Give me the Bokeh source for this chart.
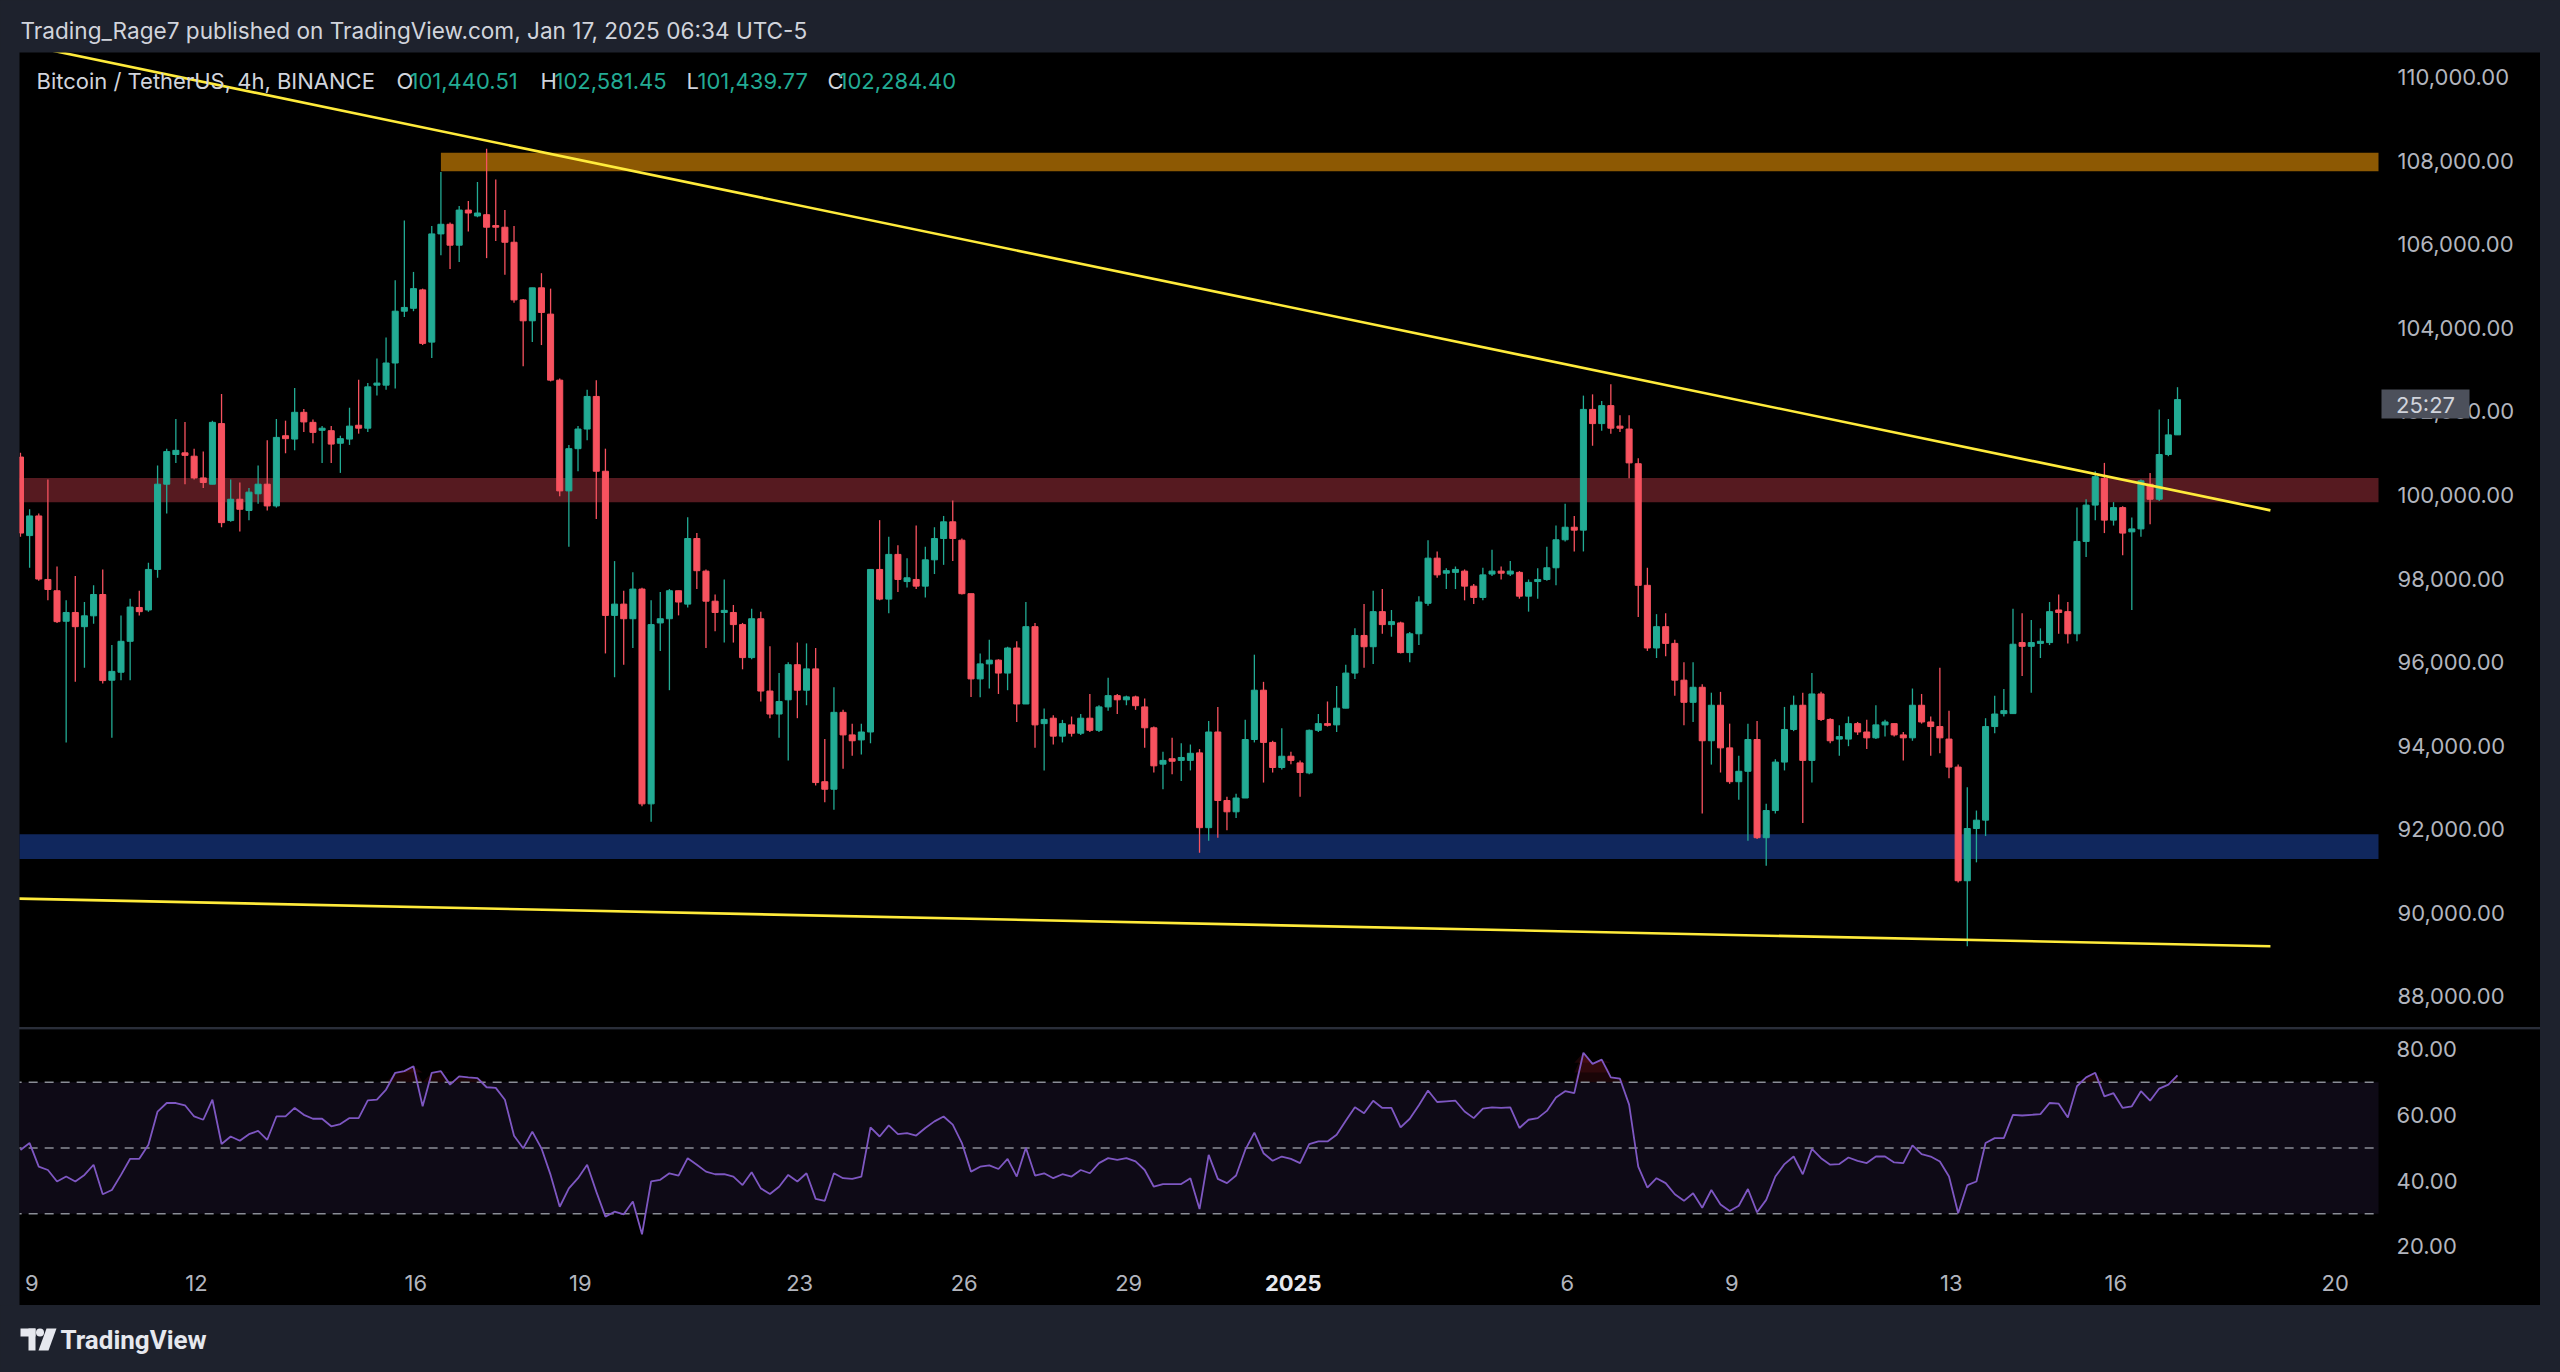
import numpy as np
import pandas as pd
from bokeh.plotting import figure
from bokeh.models import Range1d, FixedTicker, NumeralTickFormatter, Label, Spacer, ColumnDataSource
from bokeh.layouts import column, row
from bokeh.embed import file_html
from bokeh.resources import INLINE
from bokeh.core.properties import value

# ---------------- data (BTC/USDT 4h) ----------------
opens = [
    100910, 99030, 99500, 97980, 97710, 96980, 97190, 96850, 97110, 97620,
    95570, 95760, 96500, 97310, 97250, 98220, 100260, 100970, 101010, 100930,
    100410, 100260, 101710, 99390, 99900, 99630, 100030, 100260, 99740, 101420,
    101340, 101980, 101740, 101550, 101540, 101240, 101340, 101670, 101600, 102630,
    102630, 103160, 104400, 104470, 104910, 103660, 106250, 106480, 105980, 106820,
    106680, 106710, 106450, 106410, 106050, 104670, 104170, 104960, 104330, 102750,
    100100, 101110, 101580, 102360, 100570, 97120, 97390, 97040, 97750, 92610,
    96940, 97040, 97710, 97390, 98960, 98180, 97460, 97190, 97190, 96900,
    96110, 97040, 95310, 94760, 95100, 95940, 95330, 95840, 93140, 92960,
    94800, 94260, 94140, 94330, 98220, 97510, 98580, 97930, 97980, 97820,
    98450, 98960, 99360, 98920, 97640, 95600, 95960, 96050, 95740, 96340,
    95000, 96850, 94530, 94660, 94230, 94500, 94300, 94660, 94370, 94930,
    95200, 95100, 95170, 94930, 94430, 93560, 93690, 93650, 93650, 93830,
    92040, 94330, 92690, 92420, 92750, 94150, 95330, 94080, 93480, 93750,
    93590, 93350, 94370, 94530, 94500, 94900, 95740, 96640, 96370, 97210,
    96900, 96940, 96230, 96680, 97410, 98490, 98130, 98150, 98180, 97820,
    97550, 98110, 98180, 98110, 98150, 97580, 97930, 97980, 98260, 98930,
    99230, 99160, 102050, 101710, 102140, 101650, 101580, 100750, 97840, 96340,
    96850, 96450, 95570, 95040, 95400, 94120, 94970, 93950, 93140, 93390,
    94150, 91800, 92450, 93610, 94390, 94970, 93650, 95240, 94630, 94160,
    94160, 94530, 94330, 94190, 94500, 94530, 94260, 94190, 94970, 94570,
    94460, 94160, 93490, 90770, 92020, 92220, 94460, 94770, 94770, 96470,
    96380, 96450, 96470, 97250, 97210, 96680, 98890, 99760, 100400, 99400,
    99700, 99120, 99190, 100260, 99900, 100970, 101440.51,
]
highs = [
    101010, 99660, 99560, 100370, 98290, 97480, 98060, 97440, 97840, 98220,
    96410, 97120, 97520, 97710, 98380, 100710, 101110, 101820, 101750, 101110,
    101040, 101780, 102420, 100370, 100300, 100170, 100710, 101310, 101820, 101780,
    102560, 102060, 101810, 101650, 101650, 101420, 102090, 102760, 102680, 103270,
    103770, 105140, 106570, 105340, 104940, 106440, 107730, 106520, 106920, 107040,
    107490, 108290, 107550, 106820, 106440, 104690, 104960, 105310, 104940, 102790,
    101200, 101650, 102520, 102750, 101110, 98420, 97710, 98150, 97780, 97480,
    97680, 97750, 97710, 99470, 99090, 98220, 97620, 97980, 97370, 96940,
    97280, 97210, 96380, 95740, 96000, 96470, 96450, 96340, 94160, 95400,
    94860, 94530, 94530, 98220, 99400, 99000, 98800, 98490, 99270, 98760,
    99230, 99500, 99870, 98960, 97640, 96210, 96540, 96070, 96370, 96500,
    97440, 96940, 94890, 94730, 94620, 94700, 94760, 95240, 94970, 95630,
    95240, 95200, 95200, 95130, 94460, 93860, 94190, 94060, 94030, 93920,
    94590, 94930, 92780, 92850, 94620, 96180, 95530, 94120, 94420, 93860,
    93650, 94390, 94760, 95060, 95430, 95940, 96810, 97390, 97710, 97750,
    97250, 96970, 96720, 97580, 98920, 98650, 98250, 98290, 98220, 97870,
    98260, 98690, 98290, 98420, 98180, 97980, 98250, 98760, 99270, 99790,
    99500, 102380, 102410, 102250, 102650, 101910, 101910, 100880, 98260, 97150,
    97170, 96540, 96000, 96000, 95470, 95270, 95290, 94530, 93760, 94530,
    94590, 92610, 93680, 94930, 95200, 95270, 95740, 95290, 94660, 94490,
    94700, 94570, 94620, 94970, 94620, 94530, 94330, 95370, 95240, 94700,
    95870, 94840, 93550, 93010, 92450, 94660, 95200, 95360, 97280, 97170,
    97010, 96810, 97440, 97620, 97440, 99700, 99900, 100570, 100770, 99830,
    99730, 99460, 100370, 100530, 102050, 101820, 102581.45,
]
lows = [
    99000, 98260, 97950, 97480, 96940, 94080, 95530, 95870, 96920, 95490,
    94190, 95570, 95570, 97120, 97210, 98020, 99560, 100770, 100260, 100370,
    100170, 100260, 99230, 99360, 99130, 99400, 99790, 99630, 99700, 101000,
    101070, 101510, 101240, 100770, 100770, 100530, 101200, 101470, 101510, 102380,
    102520, 102550, 104260, 104400, 103590, 103280, 105740, 105410, 105580, 106310,
    106650, 105670, 106080, 105270, 104600, 103080, 103660, 103590, 102720, 99970,
    98760, 100570, 101310, 99430, 96210, 95640, 95940, 96340, 92550, 92180,
    96270, 95330, 97120, 97310, 97750, 96340, 96740, 96470, 96470, 95830,
    96070, 95060, 94660, 94190, 93650, 94660, 94970, 93050, 92650, 92470,
    93450, 93760, 93790, 94060, 97480, 97170, 97680, 97790, 97750, 97550,
    98110, 98330, 98420, 97620, 95170, 95160, 95370, 95240, 95330, 94570,
    95000, 93950, 93410, 94030, 94080, 94220, 94260, 94330, 94330, 94840,
    94760, 94970, 94860, 93950, 93360, 92960, 93320, 93160, 93410, 91440,
    91730, 91800, 91980, 92270, 92750, 94080, 93120, 93360, 93430, 93560,
    92780, 93320, 94330, 94460, 94330, 94900, 95600, 95870, 95960, 96680,
    96610, 96210, 96000, 96410, 97350, 98020, 97750, 97750, 97480, 97390,
    97480, 98060, 97980, 98060, 97520, 97210, 97520, 97950, 97840, 98890,
    98650, 98650, 101180, 101540, 101470, 101510, 100400, 97080, 96270, 96100,
    96140, 95200, 94490, 94570, 92380, 93550, 93360, 93090, 92710, 91730,
    91770, 91130, 92380, 93410, 94350, 92150, 93120, 94590, 94060, 93760,
    93990, 94260, 93920, 94160, 94220, 94220, 93650, 94120, 94530, 93760,
    93820, 93220, 90730, 89200, 91210, 91840, 94300, 94700, 94770, 95670,
    95270, 96100, 96410, 96680, 96450, 96500, 98520, 99400, 99090, 99270,
    98560, 97250, 99000, 99300, 99860, 100930, 101439.77,
]
closes = [
    99090, 99500, 97990, 97740, 96970, 97190, 96850, 97110, 97620, 95560,
    95780, 96500, 97320, 97210, 98220, 100260, 101040, 101070, 100950, 100410,
    100300, 101740, 99340, 99900, 99660, 100070, 100260, 99740, 101380, 101350,
    101980, 101750, 101500, 101600, 101220, 101350, 101650, 101600, 102590, 102680,
    103160, 104400, 104490, 104940, 103630, 106250, 106480, 105980, 106820, 106750,
    106750, 106410, 106410, 106050, 104670, 104170, 104960, 104370, 102750, 100100,
    101110, 101580, 102360, 100570, 97120, 97390, 97040, 97750, 92610, 96900,
    97040, 97710, 97440, 98960, 98190, 97460, 97190, 97240, 96900, 96110,
    97040, 95310, 94760, 95060, 95940, 95330, 95840, 93120, 92960, 94800,
    94260, 94120, 94330, 98220, 97510, 98580, 97980, 98020, 97820, 98450,
    98960, 99360, 98960, 97640, 95600, 95960, 96050, 95740, 96340, 95000,
    96850, 94500, 94630, 94230, 94530, 94300, 94660, 94370, 94930, 95200,
    95100, 95170, 94960, 94430, 93520, 93650, 93630, 93720, 93820, 92040,
    94330, 92690, 92420, 92750, 94150, 95330, 94080, 93480, 93750, 93650,
    93360, 94370, 94530, 94490, 94900, 95740, 96640, 96370, 97210, 96900,
    96970, 96230, 96680, 97440, 98490, 98090, 98190, 98220, 97820, 97550,
    98090, 98180, 98130, 98180, 97580, 97910, 97980, 98260, 98930, 99230,
    99160, 102050, 101710, 102140, 101600, 101600, 100770, 97840, 96340, 96850,
    96450, 95570, 95040, 95400, 94120, 94970, 93950, 93140, 93390, 94150,
    91800, 92450, 93610, 94390, 94970, 93650, 95240, 94630, 94120, 94220,
    94530, 94330, 94190, 94500, 94570, 94260, 94190, 94970, 94570, 94460,
    94190, 93490, 90770, 92020, 92220, 94460, 94760, 94840, 96430, 96380,
    96470, 96500, 97210, 97190, 96680, 98890, 99760, 100440, 99400, 99700,
    99090, 99190, 100340, 99900, 100970, 101440, 102284.40,
]
rsi = [
    49.4, 51.5, 44.3, 43.3, 39.8, 41.3, 39.8, 41.8, 44.9, 35.9,
    37.2, 41.8, 46.7, 46.7, 51.0, 61.1, 63.7, 63.7, 63.0, 59.6,
    58.6, 64.7, 51.2, 53.5, 52.2, 54.2, 55.2, 52.5, 59.6, 59.6,
    62.2, 60.1, 58.9, 58.9, 56.6, 57.3, 59.1, 59.1, 64.5, 64.7,
    67.8, 72.9, 73.4, 74.9, 62.7, 72.9, 73.4, 69.3, 71.8, 71.5,
    71.3, 68.5, 68.3, 64.7, 53.7, 49.9, 55.0, 49.9, 41.8, 32.1,
    37.7, 40.8, 44.9, 36.7, 29.1, 30.6, 29.8, 33.7, 23.7, 39.8,
    40.3, 42.3, 41.6, 46.9, 44.9, 42.8, 42.0, 42.0, 41.3, 38.7,
    42.6, 37.7, 36.0, 38.2, 41.8, 39.8, 42.3, 34.5, 33.9, 42.3,
    40.8, 40.6, 41.3, 56.3, 53.5, 56.9, 54.2,
    54.5, 53.8, 56.1, 58.1, 59.6, 57.1, 51.5, 42.8, 44.3, 44.7,
    43.6, 46.7, 41.3, 50.1, 41.6, 42.3, 40.8, 42.0, 41.3, 43.3,
    42.3, 45.4, 46.9, 46.4, 46.9, 45.9, 43.3, 38.2, 39.0, 39.0,
    39.0, 40.8, 31.4, 47.9, 40.6, 39.3, 41.6, 49.4, 54.7, 48.4,
    46.1, 47.4, 46.7, 45.4, 51.2, 52.0, 52.0, 54.0, 58.3, 62.4,
    60.6, 64.4, 62.2, 62.2, 56.3, 58.9, 63.0, 67.5, 64.0, 64.2,
    64.4, 61.1, 59.1, 62.0, 62.4, 62.2, 62.4, 56.1, 58.6, 59.1,
    61.3, 65.4, 67.3, 66.7, 79.0, 75.6, 76.9, 71.5, 71.1, 63.2,
    44.3, 37.9, 40.8, 39.3, 35.9, 33.9, 36.2, 31.8, 37.2, 32.8,
    30.8, 32.4, 37.5, 30.4, 34.2, 41.3, 45.1, 47.4,
    42.0, 49.7, 46.9, 44.9, 45.1, 47.1, 46.1, 45.4, 47.4, 47.4,
    45.6, 45.4, 50.8, 48.1, 47.4, 45.9, 41.3, 30.1, 38.7, 39.8,
    51.5, 53.0, 53.0, 60.1, 59.9, 60.1, 60.3, 63.7, 63.5, 59.3,
    68.8, 71.5, 72.9, 65.7, 66.7, 62.2, 62.7, 67.3, 64.4, 68.1,
    69.3, 72.1,
]

bar_start = "2024-12-08 19:00"        # first 4h bar (chart time, UTC-5)
axis_origin = "2024-12-09 00:00"
tick_dates = ["2024-12-09", "2024-12-12", "2024-12-16", "2024-12-19", "2024-12-23",
              "2024-12-26", "2024-12-29", "2025-01-01", "2025-01-06", "2025-01-09",
              "2025-01-13", "2025-01-16", "2025-01-20"]
tick_labels = ["9", "12", "16", "19", "23", "26", "29", "2025", "6", "9", "13", "16", "20"]
price_ticks = list(range(88000, 110001, 2000))
rsi_ticks = [20, 40, 60, 80]
rsi_levels = [70, 50, 30]
rsi_band = [30, 70]
rsi_fill_steps = [70, 73, 76]

zone_start = ["2024-12-16 11:00", "2024-12-01 00:00", "2024-12-01 00:00"]
zone_low = [107750, 99830, 91290]
zone_high = [108190, 100410, 91880]
zone_colors = ["#8d5903", "#561a20", "#10275d"]

trend_dates = ["2024-12-08 12:00", "2025-01-18 19:40"]
upper_trend = [110873, 99634]
lower_trend = [90349, 89201]

header_text = "Trading_Rage7 published on TradingView.com, Jan 17, 2025 06:34 UTC-5"
symbol_text = "Bitcoin / TetherUS, 4h, BINANCE"
countdown_text = "25:27"

# ---------------- styling ----------------
NAVY = "#1e222d"
BLACK = "#000000"
UP = "#22ab94"
DOWN = "#f7525f"
TXT = "#d1d4dc"
AXT = "#b2b5be"
FONT = "Inter"

origin = pd.Timestamp(axis_origin)


def to_days(s):
    return (pd.Timestamp(s) - origin) / pd.Timedelta(days=1)


t = ((pd.date_range(bar_start, periods=len(opens), freq="4h") - origin) / pd.Timedelta(days=1)).to_numpy()
o = np.array(opens, float)
h = np.array(highs, float)
l = np.array(lows, float)
c = np.array(closes, float)
col = np.where(c >= o, UP, DOWN)
src = ColumnDataSource(dict(t=t, o=o, h=h, l=l, c=c, top=np.maximum(o, c), bot=np.minimum(o, c), col=col))

PX_PER_DAY = 54.84
PANEL_W = 2521                      # black panel, x 19 .. 2540
x0 = -0.226
xr = Range1d(x0, x0 + PANEL_W / PX_PER_DAY)
yr = Range1d(87258, 110591)


def px_day(X):                       # page x -> days
    return x0 + (X - 19) / PX_PER_DAY


def py_price(Y):                     # page y -> price
    return yr.end - (Y - 52) / 975.0 * (yr.end - yr.start)


scale_edge = px_day(2378)            # where the price scale begins

# ---------------- header ----------------
hd = figure(width=2560, height=52, x_range=(0, 2560), y_range=(0, 52), title=None,
            toolbar_location=None, output_backend="svg", x_axis_type=None, y_axis_type=None,
            min_border=0, background_fill_color=NAVY, border_fill_color=NAVY, outline_line_color=None)
hd.grid.visible = False
hd.text(x=[20], y=[22], text=[header_text], text_font=value(FONT), text_font_size="22.6px",
        text_color=TXT, text_baseline="middle")

# ---------------- main price panel ----------------
p = figure(width=PANEL_W, height=975, x_range=xr, y_range=yr, title=None,
           toolbar_location=None, output_backend="svg", x_axis_type=None, y_axis_location="right",
           min_border_left=0, min_border_right=0, min_border_top=0, min_border_bottom=0,
           background_fill_color=BLACK, border_fill_color=BLACK, outline_line_color=None)
p.grid.visible = False

p.quad(left=[to_days(s) for s in zone_start], right=[scale_edge] * len(zone_low),
       bottom=zone_low, top=zone_high, fill_color=zone_colors, line_color=None)

p.segment(x0="t", y0="l", x1="t", y1="h", line_color="col", line_width=1.3, source=src)
p.vbar(x="t", width=0.11, top="top", bottom="bot", fill_color="col", line_color="col",
       line_width=1, source=src)

tx = [to_days(s) for s in trend_dates]
p.line(x=tx, y=upper_trend, line_color="#ffeb3b", line_width=2.6)
p.line(x=tx, y=lower_trend, line_color="#ffeb3b", line_width=2.6)

ay = p.yaxis[0]
ay.ticker = FixedTicker(ticks=price_ticks)
ay.formatter = NumeralTickFormatter(format="0,0.00")
ay.major_label_text_color = AXT
ay.major_label_text_font = FONT
ay.major_label_text_font_size = "22px"
ay.major_tick_out = 0
ay.major_tick_in = 0
ay.major_label_standoff = -(2540 - 2397)
ay.axis_line_color = None
ay.major_tick_line_color = None
ay.minor_tick_line_color = None

leg_y = py_price(80)
legend_parts = [
    (symbol_text, 36, TXT),
    ("O", 396, TXT), (f"{opens[-1]:,.2f}", 409, UP),
    ("H", 540, TXT), (f"{highs[-1]:,.2f}", 554, UP),
    ("L", 686, TXT), (f"{lows[-1]:,.2f}", 697, UP),
    ("C", 827, TXT), (f"{closes[-1]:,.2f}", 838, UP),
]
for txt, X, colr in legend_parts:
    p.add_layout(Label(x=px_day(X), y=leg_y, text=txt, text_color=colr, text_font=FONT,
                       text_font_size="22px", text_baseline="middle", text_align="left"))

# countdown tag on the price scale
p.quad(left=[px_day(2381)], right=[px_day(2469)], bottom=[py_price(418)], top=[py_price(389)],
       fill_color="#4c505b", line_color=None, level="overlay")
p.text(x=[px_day(2425)], y=[py_price(404)], text=[countdown_text], text_font=value(FONT),
       text_font_size="22px", text_color=TXT, text_align="center", text_baseline="middle",
       level="overlay")

# ---------------- RSI panel ----------------
RSI_PX = 3.283
rsi_top = 86.09
r = figure(width=PANEL_W, height=276, x_range=xr, y_range=Range1d(rsi_top - 276 / RSI_PX, rsi_top),
           title=None, toolbar_location=None, output_backend="svg", y_axis_location="right",
           min_border_left=0, min_border_right=0, min_border_top=0, min_border_bottom=0,
           background_fill_color=BLACK, border_fill_color=BLACK, outline_line_color=None)
r.grid.visible = False
r.varea(x=[x0 - 1, scale_edge], y1=[rsi_band[0]] * 2, y2=[rsi_band[1]] * 2, fill_color="#0e0a16")
rs = np.array(rsi, float)
for lv in rsi_fill_steps:
    r.varea(x=t, y1=np.full(len(rs), float(lv)), y2=np.maximum(rs, lv), fill_color="#9a1c28",
            fill_alpha=0.17)
r.segment(x0=[x0 - 1] * 3, x1=[scale_edge] * 3, y0=rsi_levels, y1=rsi_levels,
          line_color="#8a8d96", line_width=1.5, line_dash="9 7")
r.line(t, rs, line_color="#7e57c2", line_width=1.8)

ry = r.yaxis[0]
ry.ticker = FixedTicker(ticks=rsi_ticks)
ry.formatter = NumeralTickFormatter(format="0.00")
ry.major_label_text_color = AXT
ry.major_label_text_font = FONT
ry.major_label_text_font_size = "22px"
ry.major_tick_out = 0
ry.major_tick_in = 0
ry.major_label_standoff = -(2540 - 2396)
ry.axis_line_color = None
ry.major_tick_line_color = None
ry.minor_tick_line_color = None

tick_pos = [to_days(d) for d in tick_dates]
rx = r.xaxis[0]
rx.ticker = FixedTicker(ticks=tick_pos)
rx.major_label_overrides = {pos: ("" if lab == "2025" else lab) for pos, lab in zip(tick_pos, tick_labels)}
rx.major_label_text_color = AXT
rx.major_label_text_font = FONT
rx.major_label_text_font_size = "22px"
rx.major_tick_out = 0
rx.major_tick_in = 0
rx.major_label_standoff = -31
rx.axis_line_color = None
rx.major_tick_line_color = None
rx.minor_tick_line_color = None
for pos, lab in zip(tick_pos, tick_labels):
    if lab == "2025":
        r.add_layout(Label(x=pos, y=rsi_top - (1282 - 1029) / RSI_PX, text=lab, text_color="#e6e8ee",
                           text_font=FONT, text_font_size="22px", text_font_style="bold",
                           text_align="center", text_baseline="middle"))

# ---------------- footer ----------------
ft = figure(width=2560, height=67, x_range=(0, 2560), y_range=(0, 67), title=None,
            toolbar_location=None, output_backend="svg", x_axis_type=None, y_axis_type=None,
            min_border=0, background_fill_color=NAVY, border_fill_color=NAVY, outline_line_color=None)
ft.grid.visible = False
ft.quad(left=[20, 28], right=[35, 35], bottom=[36, 22], top=[44, 44], fill_color="#e6e8ee", line_color=None)
ft.circle(x=[39.5], y=[40], radius=4, fill_color="#e6e8ee", line_color=None)
ft.patch(x=[46, 56, 48, 38], y=[44, 44, 22, 22], fill_color="#e6e8ee", line_color=None)
ft.text(x=[60], y=[33], text=["TradingView"], text_font=value("Roboto"), text_font_size="26px",
        text_font_style="bold", text_color="#e6e8ee", text_baseline="middle")

# ---------------- layout (page has no body margin) ----------------
BG = {"background-color": NAVY}
main_row = row(Spacer(width=19, height=975, styles=BG), p, Spacer(width=20, height=975, styles=BG))
sep_row = row(Spacer(width=19, height=2, styles=BG),
              Spacer(width=PANEL_W, height=2, styles={"background-color": "#2a2e39"}),
              Spacer(width=20, height=2, styles=BG))
rsi_row = row(Spacer(width=19, height=276, styles=BG), r, Spacer(width=20, height=276, styles=BG))
layout = column(hd, main_row, sep_row, rsi_row, ft, styles=BG)

open("out.html", "w").write(file_html(layout, INLINE))
